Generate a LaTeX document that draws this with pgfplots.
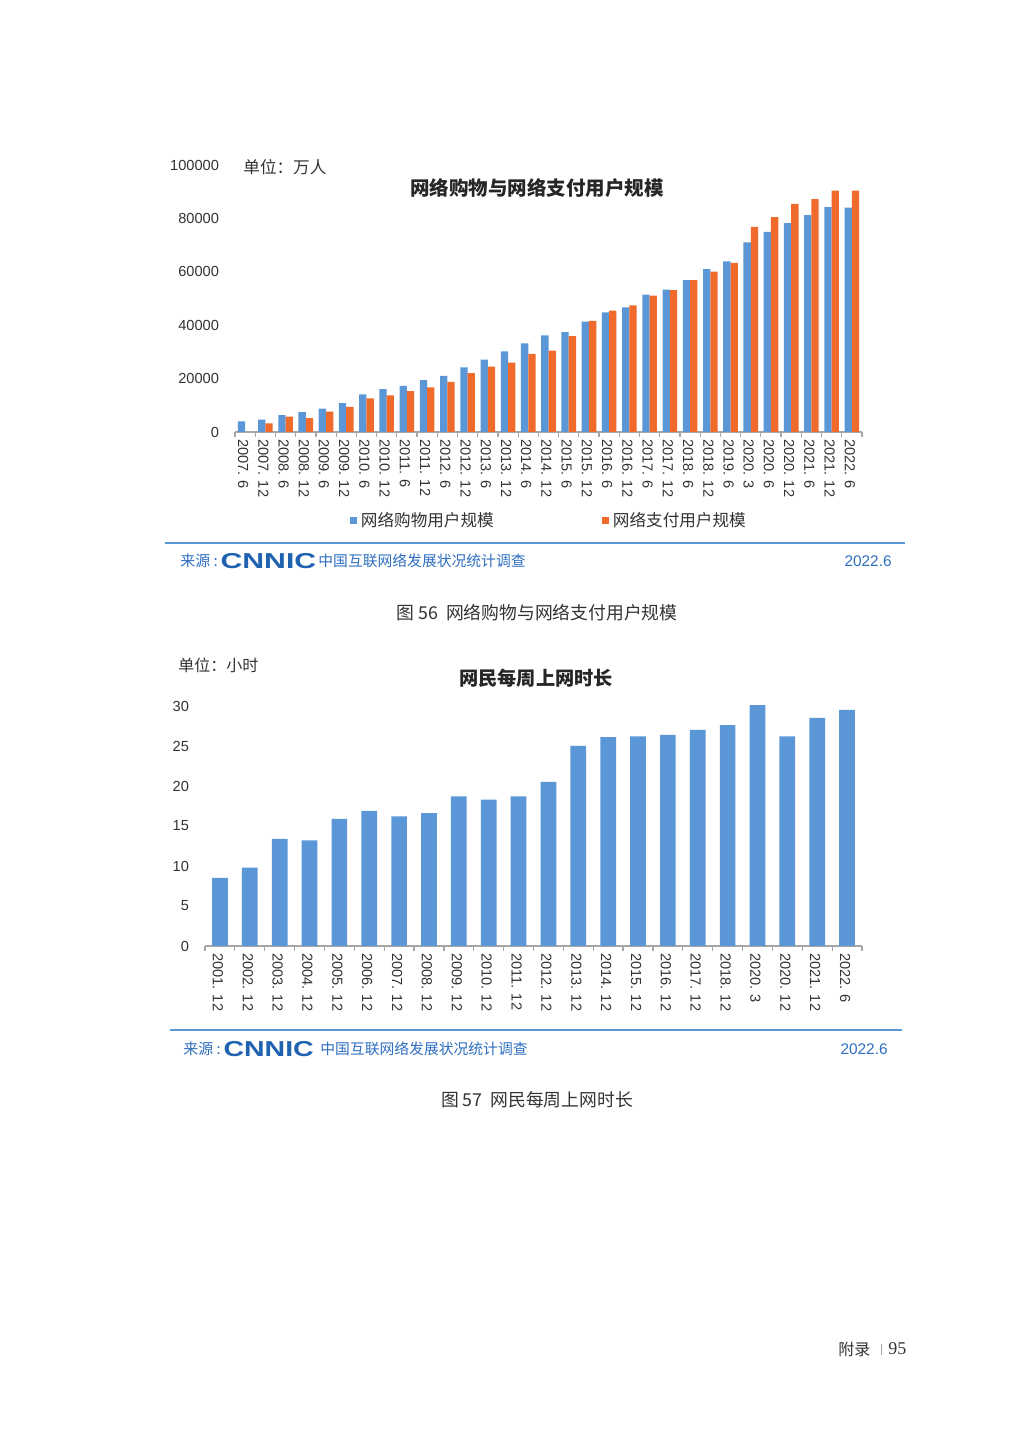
\documentclass[border=0pt]{standalone}
\usepackage{fontspec}
\setmainfont{Liberation Sans}
\newfontfamily\cjk{Noto Sans CJK SC}
\newfontfamily\serif{Liberation Serif}
\usepackage{pgfplots}
\pgfplotsset{compat=1.18}
\definecolor{cblue}{HTML}{5B97D6}
\definecolor{corange}{HTML}{F06A2C}
\definecolor{srcblue}{HTML}{2F6FC0}
\definecolor{logoblue}{HTML}{1F62B0}
\definecolor{axisgray}{HTML}{A6A6A6}
\definecolor{txt}{HTML}{333333}
\newcommand\fs[1]{\fontsize{#1}{#1}\selectfont}

\pgfplotsset{
  pagechart/.style={
    scale only axis, anchor=south west,
    ymin=0,
    axis x line*=bottom, axis y line*=left,
    y axis line style={draw=none},
    x axis line style={axisgray, line width=0.8pt, -},
    major tick length=0pt,
    minor tick length=2.5pt,
    tick align=outside,
    minor tick style={axisgray, line width=0.6pt},
    tick label style={text=txt, font=\fs{7.3}},
    x tick label style={rotate=-90, anchor=west, yshift=-1pt},
    y tick label style={xshift=-4.5pt},
    scaled y ticks=false,
    /pgf/number format/fixed,
    /pgf/number format/1000 sep={},
    /pgf/number format/assume math mode=true,
  }
}

\begin{document}
\begin{tikzpicture}
\fill[white] (0,0) rectangle (510pt,720pt);

% chart 1
\begin{axis}[pagechart,
  at={(117.5pt,504pt)}, width=313.5pt, height=133.5pt,
  ybar=0pt, bar width=3.65pt,
  xmin=-0.5, xmax=30.5, ymax=100000,
  ytick={0,20000,40000,60000,80000,100000},
  xtick={0,...,30},
  minor xtick={-0.5,0.5,...,30.5},
  xticklabels={2007. 6,2007. 12,2008. 6,2008. 12,2009. 6,2009. 12,2010. 6,2010. 12,2011. 6,2011. 12,2012. 6,2012. 12,2013. 6,2013. 12,2014. 6,2014. 12,2015. 6,2015. 12,2016. 6,2016. 12,2017. 6,2017. 12,2018. 6,2018. 12,2019. 6,2020. 3,2020. 6,2020. 12,2021. 6,2021. 12,2022. 6},
  legend style={at={(0.502,-0.333)}, anchor=center, draw=none, fill=none,
    legend columns=-1, font=\cjk\fs{8.3}, text=txt,
    /tikz/every even column/.append style={column sep=52pt}},
  legend image code/.code={\fill[#1] (0pt,-1.8pt) rectangle (3.6pt,1.8pt);},
]
\addplot[fill=cblue, draw=none] coordinates {
(0,4000) (1,4641) (2,6329) (3,7400) (4,8788) (5,10800) (6,14044) (7,16051)
(8,17266) (9,19395) (10,20989) (11,24202) (12,27091) (13,30189) (14,33151)
(15,36142) (16,37391) (17,41325) (18,44772) (19,46670) (20,51443) (21,53332)
(22,56892) (23,61011) (24,63882) (25,71027) (26,74939) (27,78241) (28,81206)
(29,84210) (30,84057)};
\addplot[fill=corange, draw=none] coordinates {
(1,3208) (2,5750) (3,5200) (4,7600) (5,9406) (6,12600) (7,13719)
(8,15339) (9,16676) (10,18722) (11,22065) (12,24438) (13,26020) (14,29227)
(15,30431) (16,35886) (17,41618) (18,45476) (19,47450) (20,51104) (21,53110)
(22,56893) (23,60040) (24,63305) (25,76798) (26,80500) (27,85434) (28,87221)
(29,90363) (30,90444)};
\legend{网络购物用户规模,网络支付用户规模}
\end{axis}

% chart 2
\begin{axis}[pagechart,
  at={(102.5pt,247pt)}, width=328.5pt, height=120pt,
  ybar, bar width=7.85pt,
  xmin=-0.5, xmax=21.5, ymax=30,
  ytick={0,5,...,30},
  xtick={0,...,21},
  minor xtick={-0.5,0.5,...,21.5},
  xticklabels={2001. 12,2002. 12,2003. 12,2004. 12,2005. 12,2006. 12,2007. 12,2008. 12,2009. 12,2010. 12,2011. 12,2012. 12,2013. 12,2014. 12,2015. 12,2016. 12,2017. 12,2018. 12,2020. 3,2020. 12,2021. 12,2022. 6},
]
\addplot[fill=cblue, draw=none] coordinates {
(0,8.5) (1,9.8) (2,13.4) (3,13.2) (4,15.9) (5,16.9) (6,16.2) (7,16.6)
(8,18.7) (9,18.3) (10,18.7) (11,20.5) (12,25.0) (13,26.1) (14,26.2)
(15,26.4) (16,27.0) (17,27.6) (18,30.8) (19,26.2) (20,28.5) (21,29.5)};
\end{axis}

% chart texts
\node[font=\cjk\bfseries\fs{9.75}, text=black!85] at (268.5pt,626pt) {网络购物与网络支付用户规模};
\node[anchor=west, inner sep=0pt, font=\cjk\fs{8.3}, text=txt] at (121.5pt,636.5pt) {单位：万人};
\node[font=\cjk\bfseries\fs{9.6}, text=black!85] at (268pt,381pt) {网民每周上网时长};
\node[anchor=west, inner sep=0pt, font=\cjk\fs{8}, text=txt] at (89pt,387.5pt) {单位：小时};

% source lines
\draw[cblue, line width=0.8pt] (82.5pt,448.5pt) -- (452.5pt,448.5pt);
\node[anchor=west, inner sep=0pt, font=\cjk\fs{7.5}, text=srcblue] at (90pt,439.5pt) {来源 :};
\node[anchor=west, inner sep=0pt, font=\bfseries\fs{10.8}, text=logoblue, xscale=1.4] at (110pt,439.5pt) {CNNIC};
\node[anchor=west, inner sep=0pt, font=\cjk\fs{7.4}, text=srcblue] at (159pt,439.5pt) {中国互联网络发展状况统计调查};
\node[anchor=east, inner sep=0pt, font=\fs{7.7}, text=srcblue] at (446pt,439.5pt) {2022.6};
\node[font=\cjk\fs{8.9}, text=txt] at (268.5pt,413.5pt) {图 56\ \ 网络购物与网络支付用户规模};

\draw[cblue, line width=0.8pt] (85pt,205pt) -- (451pt,205pt);
\node[anchor=west, inner sep=0pt, font=\cjk\fs{7.5}, text=srcblue] at (91.5pt,195.5pt) {来源 :};
\node[anchor=west, inner sep=0pt, font=\bfseries\fs{10.8}, text=logoblue, xscale=1.32] at (111.5pt,195.5pt) {CNNIC};
\node[anchor=west, inner sep=0pt, font=\cjk\fs{7.4}, text=srcblue] at (160pt,195.5pt) {中国互联网络发展状况统计调查};
\node[anchor=east, inner sep=0pt, font=\fs{7.7}, text=srcblue] at (444pt,195.5pt) {2022.6};
\node[font=\cjk\fs{8.9}, text=txt] at (268.5pt,170pt) {图 57\ \ 网民每周上网时长};

% footer
\node[anchor=west, inner sep=0pt, font=\cjk\fs{8}, text=txt] at (419pt,45.5pt) {附录};
\draw[black!35, line width=0.5pt] (440.5pt,42.5pt) -- (440.5pt,48pt);
\node[anchor=west, inner sep=0pt, font=\serif\fs{9}, text=txt] at (444pt,45.5pt) {95};
\end{tikzpicture}
\end{document}
